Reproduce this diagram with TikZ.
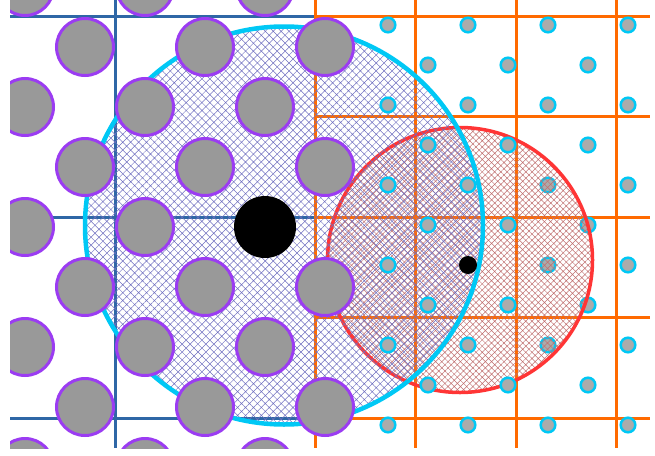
\documentclass[tikz,border=0pt]{standalone}
\usepackage{tikz}
\usetikzlibrary{patterns.meta}
\definecolor{gridblue}{HTML}{2F67A6}
\definecolor{gridorange}{HTML}{FF6A00}
\definecolor{diskgray}{HTML}{999999}
\definecolor{diskpurple}{HTML}{9B3CF2}
\definecolor{dotgray}{HTML}{ABABAB}
\definecolor{ringcyan}{HTML}{00C8F5}
\definecolor{ringred}{HTML}{FF3535}
\definecolor{hatchblue}{HTML}{7070C0}
\definecolor{hatchred}{HTML}{C07070}

\tikzset{
  bigdisk/.style={fill=diskgray, draw=diskpurple, line width=3pt},
  smalldot/.style={fill=dotgray, draw=ringcyan, line width=2.5pt},
}

\begin{document}
\begin{tikzpicture}[x=1pt, y=-1pt]
  \useasboundingbox (0,0) rectangle (655,455);
  \clip (10,0) rectangle (650,448);

  %% Coarse grid (left part)
  \foreach \y in {16,217,418} {
    \draw[gridblue, line width=3pt] (10,\y) -- (315,\y);
  }
  \draw[gridblue, line width=3pt] (115,0) -- (115,448);

  %% Fine grid (right part)
  \foreach \x in {315,415.5,516,616} {
    \draw[gridorange, line width=3pt] (\x,0) -- (\x,448);
  }
  \foreach \y in {16,116.5,217,317.5,418} {
    \draw[gridorange, line width=3pt] (315,\y) -- (650,\y);
  }

  %% Small dots lying under the red hatch
  \foreach \y in {25,105,...,425} {
    \foreach \x in {548,628} {
      \draw[smalldot] (\x,\y) circle[radius=7.3];
    }
  }
  \foreach \y in {65,145,...,385} {
    \draw[smalldot] (588,\y) circle[radius=7.3];
  }

  %% Search radii
  \draw[ringred, line width=3.5pt,
        pattern={Hatch[angle=45, distance=4.4pt, line width=0.5pt]},
        pattern color=hatchred] (460,260) circle[radius=132.5];
  \draw[ringcyan, line width=4.5pt,
        pattern={Hatch[angle=45, distance=5.6pt, line width=0.5pt]},
        pattern color=hatchblue] (284,225.5) circle[radius=199];

  %% Remaining small dots
  \foreach \y in {25,105,...,425} {
    \foreach \x in {388,468} {
      \draw[smalldot] (\x,\y) circle[radius=7.3];
    }
  }
  \foreach \y in {65,145,...,385} {
    \foreach \x in {428,508} {
      \draw[smalldot] (\x,\y) circle[radius=7.3];
    }
  }

  %% Large disks
  \foreach \y in {-13,107,...,467} {
    \foreach \x in {25,145,265} {
      \draw[bigdisk] (\x,\y) circle[radius=28.5];
    }
  }
  \foreach \y in {47,167,...,407} {
    \foreach \x in {85,205,325} {
      \draw[bigdisk] (\x,\y) circle[radius=28.5];
    }
  }

  %% Query points
  \fill[black] (265,227) circle[radius=31];
  \fill[black] (468,265) circle[radius=9];
\end{tikzpicture}
\end{document}
